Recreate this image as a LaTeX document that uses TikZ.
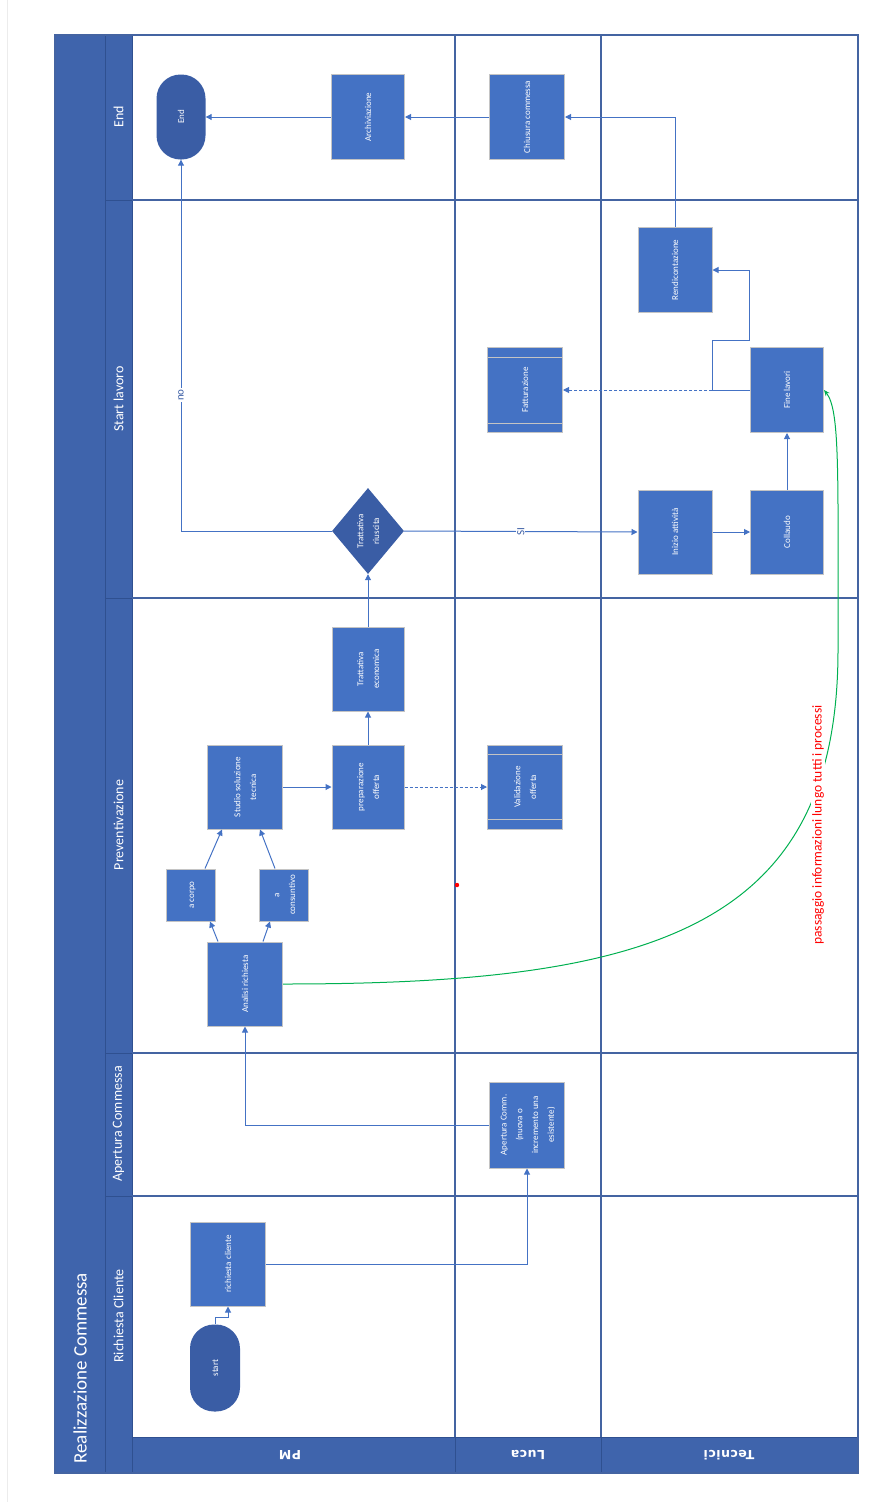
\documentclass[tikz,border=0pt]{standalone}
\usepackage{fontspec}
\setmainfont{Carlito}
\newfontfamily\lanefont[LetterSpace=4]{DejaVu Sans}
\usetikzlibrary{shapes.geometric,arrows.meta}
\definecolor{boxfill}{HTML}{4472C4}
\definecolor{boxedge}{HTML}{C4C4C4}
\definecolor{termfill}{HTML}{3A5DA5}
\definecolor{bandfill}{HTML}{3F64AC}
\definecolor{bandline}{HTML}{2F5090}
\definecolor{gridline}{HTML}{4464A2}
\definecolor{connc}{HTML}{4472C4}
\definecolor{greenc}{HTML}{00B050}
\newcommand{\rtxt}[1]{\rotatebox{90}{\renewcommand{\arraystretch}{1.5}\begin{tabular}{@{}c@{}}#1\end{tabular}}}
\begin{document}
\begin{tikzpicture}[x=1pt,y=-1pt,
  boxfont/.style={font=\fontsize{9}{10.5}\selectfont},
  procbox/.style={draw=boxedge, line width=1pt, fill=boxfill, text=white, inner sep=0pt, boxfont},
  termbox/.style={fill=termfill, draw=none, rounded corners=24pt, text=white, inner sep=0pt, boxfont},
  decbox/.style={diamond, aspect=0.84, fill=termfill, draw=none, text=white, inner sep=0pt, boxfont},
  stripe/.style={draw=boxedge, line width=0.8pt},
  conn/.style={draw=connc, line width=1pt, -{Triangle[length=6pt,width=6pt]}},
  dconn/.style={conn, dash pattern=on 3pt off 2pt},
  phasetxt/.style={rotate=90, text=white, font=\fontsize{14}{14}\selectfont},
  lanetxt/.style={rotate=180, text=white, font=\lanefont\bfseries\fontsize{12.5}{13}\selectfont},
  grid/.style={draw=gridline, line width=1.3pt},
  bgrid/.style={draw=bandline, line width=0.8pt},
  lbl/.style={rotate=90, fill=white, inner sep=1pt, text=termfill, font=\fontsize{11}{11}\selectfont}
]
\useasboundingbox (0,0) rectangle (888,1502);
\draw[gray!15, line width=0.8pt] (7,0) -- (7,1502);
% bands
\fill[bandfill] (55,35) rectangle (105,1473);
\fill[bandfill] (105,35) rectangle (132,1473);
\fill[bandfill] (132,1437) rectangle (858,1473);
\draw[bgrid] (105,35) -- (105,1473);
\draw[bgrid] (132,35) -- (132,1473);
\draw[bgrid] (132,1437) -- (858,1437);
\foreach \yy in {200,598,1053,1196} {\draw[bgrid] (105,\yy) -- (132,\yy);}
\foreach \yy in {200,598,1053,1196} {\draw[grid] (132,\yy) -- (858,\yy);}
\draw[grid] (455,35) -- (455,1437);
\draw[grid] (601,35) -- (601,1437);
\draw[bgrid] (455,1437) -- (455,1473);
\draw[bgrid] (601,1437) -- (601,1473);
\draw[grid] (55,35) rectangle (858,1473);
% header texts
\node[rotate=90, anchor=west, text=white, font=\fontsize{19}{19}\selectfont] (title) at (80,1467) {Realizzazione Commessa};
\node[phasetxt] (ph1) at (118.5,117) {End};
\node[phasetxt] (ph2) at (118.5,399) {Start lavoro};
\node[phasetxt] (ph3) at (118.5,825) {Preventivazione};
\node[phasetxt] (ph4) at (118.5,1124) {Apertura Commessa};
\node[phasetxt] (ph5) at (118.5,1316) {Richiesta Cliente};
\node[lanetxt] (lpm) at (290,1455) {PM};
\node[lanetxt] (lluca) at (528,1455) {Luca};
\node[lanetxt] (ltec) at (729,1455) {Tecnici};
% nodes
\node[termbox, minimum width=50pt, minimum height=87pt] (start) at (215,1368) {\rtxt{start}};
\node[procbox, minimum width=75pt, minimum height=84pt] (richiesta) at (228,1264) {\rtxt{richiesta cliente}};
\node[procbox, minimum width=75pt, minimum height=86pt] (apertura) at (527,1125) {\rtxt{Apertura Comm.\\(nuova o\\incremento una\\esistente)}};
\node[procbox, minimum width=75pt, minimum height=84pt] (analisi) at (245,984) {\rtxt{Analisi richiesta}};
\node[procbox, minimum width=49pt, minimum height=52pt] (acorpo) at (191,895) {\rtxt{a corpo}};
\node[procbox, minimum width=49pt, minimum height=52pt] (acons) at (284,895) {\rtxt{a\\consuntivo}};
\node[procbox, minimum width=75pt, minimum height=84pt] (studio) at (245,787) {\rtxt{Studio soluzione\\tecnica}};
\node[procbox, minimum width=72pt, minimum height=84pt] (prep) at (368,787) {\rtxt{preparazione\\offerta}};
\node[procbox, minimum width=75pt, minimum height=84pt] (valid) at (525,787) {\rtxt{Validazione\\offerta}};
\node[procbox, minimum width=72pt, minimum height=84pt] (tratt) at (368,669) {\rtxt{Trattativa\\economica}};
\node[decbox, minimum width=72pt, minimum height=86pt] (diam) at (368,531) {\rtxt{Trattativa\\riuscita}};
\node[procbox, minimum width=74pt, minimum height=84pt] (inizio) at (675,532) {\rtxt{Inizio attività}};
\node[procbox, minimum width=73pt, minimum height=84pt] (collaudo) at (787,532) {\rtxt{Collaudo}};
\node[procbox, minimum width=73pt, minimum height=85pt] (fine) at (787,390) {\rtxt{Fine lavori}};
\node[procbox, minimum width=75pt, minimum height=85pt] (fatt) at (525,390) {\rtxt{Fatturazione}};
\node[procbox, minimum width=74pt, minimum height=85pt] (rend) at (675,270) {\rtxt{Rendicontazione}};
\node[termbox, minimum width=49pt, minimum height=85pt] (endn) at (181,117) {\rtxt{End}};
\node[procbox, minimum width=73pt, minimum height=85pt] (arch) at (368,117) {\rtxt{Archiviazione}};
\node[procbox, minimum width=75pt, minimum height=85pt] (chius) at (527,117) {\rtxt{Chiusura commessa}};
% predefined process stripes
\draw[stripe] ([yshift=-10pt]valid.north west) -- ([yshift=-10pt]valid.north east);
\draw[stripe] ([yshift=10pt]valid.south west) -- ([yshift=10pt]valid.south east);
\draw[stripe] ([yshift=-10pt]fatt.north west) -- ([yshift=-10pt]fatt.north east);
\draw[stripe] ([yshift=10pt]fatt.south west) -- ([yshift=10pt]fatt.south east);
% connectors
\draw[conn] (start.north) -- ++(0,-7) -| (richiesta.south);
\draw[conn] (richiesta.east) -| (apertura.south);
\draw[conn] (apertura.west) -| (analisi.south);
\draw[conn] ([xshift=-27pt]analisi.north) -- ([xshift=19pt]acorpo.south);
\draw[conn] ([xshift=18pt]analisi.north) -- ([xshift=-14pt]acons.south);
\draw[conn] ([xshift=14pt]acorpo.north) -- ([xshift=-23pt]studio.south);
\draw[conn] ([xshift=-9pt]acons.north) -- ([xshift=15pt]studio.south);
\draw[conn] (studio.east) -- (prep.west);
\draw[dconn] (prep.east) -- (valid.west);
\draw[conn] (prep.north) -- (tratt.south);
\draw[conn] (tratt.north) -- (diam.south);
\draw[conn] (diam.east) -- node[lbl, pos=0.50] (si) {SI} (inizio.west);
\draw[conn] (diam.west) -| node[lbl, pos=0.683] (no) {no} (endn.south);
\draw[conn] (inizio.east) -- (collaudo.west);
\draw[conn] (collaudo.north) -- (fine.south);
\draw[conn] (fine.west) -- ++(-38,0) -- ++(0,-50) -- ++(37,0) |- (rend.east);
\draw[dconn] ([xshift=-38pt]fine.west) -- (fatt.east);
\draw[conn] (rend.north) |- (chius.east);
\draw[conn] (chius.west) -- (arch.east);
\draw[conn] (arch.west) -- (endn.east);
% green information flow
\draw[greenc, line width=1pt, -{Stealth[length=6pt,width=5pt]}] (analisi.east) .. controls (650,984) and (838,930) .. (838,650) .. controls (838,470) and (840,410) .. (fine.east);
\node[rotate=90, text=red, fill=white, inner sep=1pt, font=\fontsize{13.5}{14}\selectfont] (note) at (818,825) {passaggio informazioni lungo tutti i processi};
\fill[red] (457,885) circle (2.2pt);
\end{tikzpicture}
\end{document}
